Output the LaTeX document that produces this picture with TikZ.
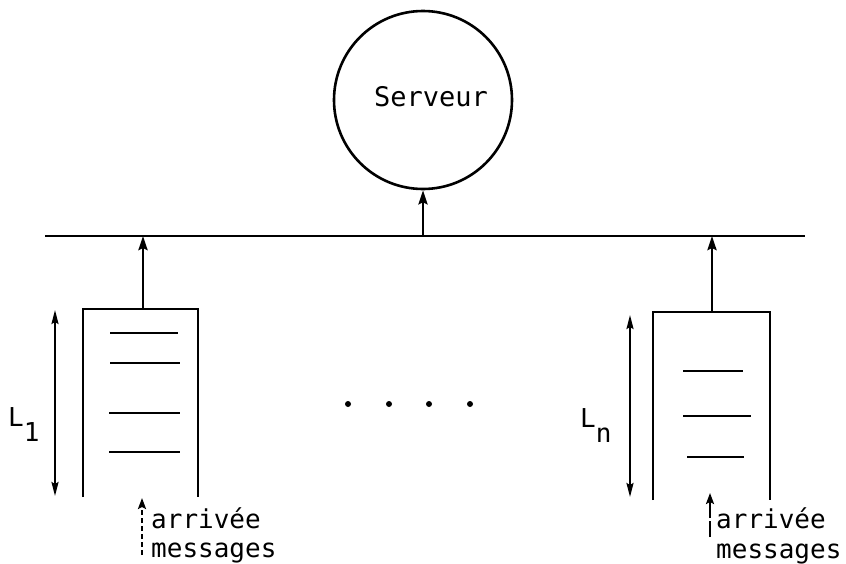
\documentclass[tikz,border=0pt]{standalone}
\usepackage{fontspec}
\setmainfont{DejaVu Sans Mono}
\usetikzlibrary{arrows.meta}
\begin{document}
\begin{tikzpicture}[x=1pt,y=-1pt,
  ln/.style={line width=2.8pt},
  fine/.style={line width=2pt},
  arr/.style={ln,-{Stealth[length=14pt,width=9pt,inset=2pt]}},
  dbl/.style={fine,{Stealth[length=14pt,width=7pt,inset=2pt]}-{Stealth[length=14pt,width=7pt,inset=2pt]}},
  darr/.style={fine,-{Stealth[length=11pt,width=8pt,inset=2pt]}},
  txt/.style={font=\fontsize{26}{28}\selectfont,inner sep=0pt,anchor=base west}]
\useasboundingbox (0,0) rectangle (846,563);
% server
\node[circle,draw,line width=2.6pt,minimum size=178pt,inner sep=0pt] (srv) at (423,100) {};
\node[txt,anchor=base] (srvtxt) at (431,106) {\fontsize{27}{29}\selectfont Serveur};
% bus
\coordinate (busL) at (45,236);
\coordinate (busR) at (805,236);
\draw[ln] (busL) -- (busR);
\coordinate (bS) at (423,236);
\draw[arr] (bS) -- (srv.south);
% left queue
\coordinate (q1tl) at (83,309);
\coordinate (q1tr) at (198,309);
\coordinate (q1bl) at (83,497);
\coordinate (q1br) at (198,497);
\draw[ln] (q1bl) -- (q1tl) -- (q1tr) -- (q1br);
\coordinate (q1t) at (143,309);
\coordinate (b1) at (143,236);
\draw[arr] (q1t) -- (b1);
\foreach \y/\a/\b in {333/110/178,363/110/180,413/109/180,452/109/180}
  \draw[fine] (\a,\y) -- (\b,\y);
\coordinate (d1t) at (55,310);
\coordinate (d1b) at (55,496);
\draw[dbl] (d1t) -- (d1b);
\node[txt] (L1) at (8,426) {L\raisebox{-15pt}{1}};
\coordinate (a1b) at (142,555);
\coordinate (a1t) at (142,498);
\draw[darr,dash pattern=on 5pt off 3pt] (a1b) -- (a1t);
\node[txt] (arr1) at (151,528) {arrivée};
\node[txt] (msg1) at (151,557) {messages};
% dots
\foreach \x [count=\i] in {348,389,429,470}
  \fill (\x,404) circle (3pt);
% right queue
\coordinate (q2tl) at (653,312);
\coordinate (q2tr) at (770,312);
\coordinate (q2bl) at (653,500);
\coordinate (q2br) at (770,500);
\draw[ln] (q2bl) -- (q2tl) -- (q2tr) -- (q2br);
\coordinate (q2t) at (712,312);
\coordinate (b2) at (712,236);
\draw[arr] (q2t) -- (b2);
\foreach \y/\a/\b in {371/683/743,416/683/751,457/687/744}
  \draw[fine] (\a,\y) -- (\b,\y);
\coordinate (d2t) at (630,315);
\coordinate (d2b) at (630,497);
\draw[dbl] (d2t) -- (d2b);
\node[txt] (Ln) at (580,427) {L\raisebox{-15pt}{n}};
\coordinate (a2b) at (710,537);
\coordinate (a2t) at (710,493);
\draw[darr,dash pattern=on 16pt off 3pt] (a2b) -- (a2t);
\node[txt] (arr2) at (716,528) {arrivée};
\node[txt] (msg2) at (716,558) {messages};
\end{tikzpicture}
\end{document}
